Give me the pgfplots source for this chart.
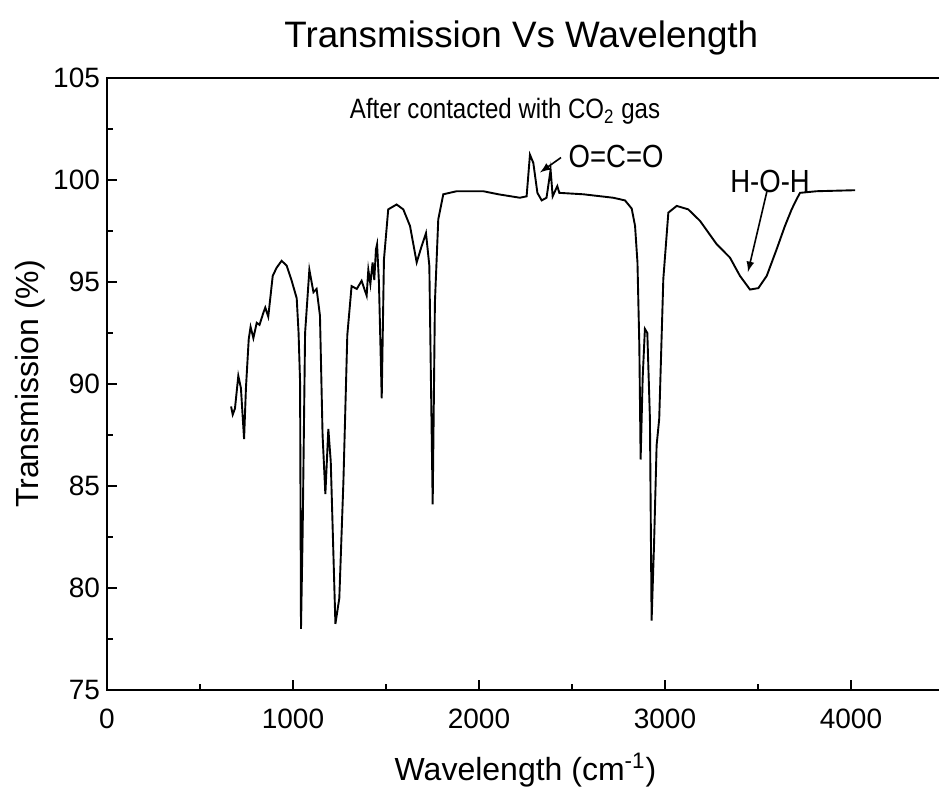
\documentclass[border=0pt]{standalone}
\usepackage{fontspec}
\setmainfont{Liberation Sans}
\newfontfamily\narrowfont[FakeStretch=0.86]{Liberation Sans}
\usepackage{pgfplots}
\pgfplotsset{compat=1.18}
\begin{document}
\begin{tikzpicture}
\begin{axis}[
  scale only axis, width=418.5pt, height=306pt,
  xmin=0, xmax=4500, ymin=75, ymax=105,
  xtick={0,1000,2000,3000,4000}, ytick={75,80,...,105},
  minor x tick num=1, minor y tick num=1,
  tick align=inside, tick pos=left,
  major tick length=5pt, minor tick length=3pt,
  axis line style={line width=1.4pt}, every tick/.style={line width=1.2pt, black},
  /pgf/number format/assume math mode=true,
  /pgf/number format/set thousands separator={},
  tick label style={font=\fontsize{14}{14}\selectfont},
  xticklabel style={yshift=-6pt},
  title={Transmission Vs Wavelength},
  title style={font=\fontsize{18.4}{18.4}\selectfont, at={(axis description cs:0.495,1)}, anchor=center, yshift=14pt},
  xlabel={Wavelength (cm\textsuperscript{-1})},
  ylabel={Transmission (\%)},
  xlabel style={font=\fontsize{16}{16}\selectfont, at={(axis description cs:0.5,0)}, anchor=center, yshift=-40pt},
  ylabel style={font=\fontsize{16}{16}\selectfont, at={(axis description cs:-0.092,0.5)}, anchor=center},
  clip=false,
]
\addplot[black, line width=0.95pt] coordinates {
(667,88.9) (676,88.5) (688,88.8) (706,90.4) (720,89.8) (737,87.3) (747,89.8)
(762,92.2) (772,92.8) (787,92.25) (805,93.0) (820,92.9) (841,93.5) (851,93.75)
(867,93.3) (891,95.3) (912,95.7) (939,96.04) (966,95.8) (993,95.06) (1020,94.2)
(1030,92.5) (1038,90.1) (1043,78.0) (1052,82.8) (1065,92.5) (1088,95.6)
(1110,94.5) (1127,94.66) (1145,93.35) (1159,87.5) (1174,84.6) (1190,87.8)
(1203,86.2) (1228,78.24) (1249,79.5) (1271,85.2) (1292,92.4) (1315,94.8)
(1343,94.66) (1369,95.06) (1396,94.33) (1405,95.6) (1416,94.9) (1428,95.96)
(1437,95.1) (1446,96.6) (1452,96.85) (1462,95) (1477,89.3) (1489,96.1)
(1512,98.56) (1557,98.8) (1593,98.56) (1629,97.75) (1665,95.96) (1692,96.77)
(1715,97.4) (1733,95.8) (1745,88) (1751,84.1) (1757,89) (1763,94.0)
(1781,98.07) (1808,99.3) (1880,99.45) (2023,99.45) (2104,99.3) (2220,99.13)
(2256,99.2) (2274,101.24) (2292,100.84) (2314,99.37) (2337,99.0) (2363,99.13)
(2385,100.5) (2396,99.2) (2409,99.46) (2421,99.7) (2432,99.37) (2561,99.3)
(2722,99.13) (2785,99.0) (2821,98.6) (2839,97.75) (2852,95.96) (2862,91.9)
(2869,86.3) (2880,90.3) (2892,92.7) (2905,92.5) (2919,88.3) (2928,78.4)
(2941,82.1) (2955,87.0) (2969,88.3) (2991,95.15) (3018,98.4) (3063,98.73)
(3125,98.56) (3188,98.0) (3278,96.85) (3349,96.2) (3403,95.3) (3457,94.63)
(3502,94.7) (3547,95.3) (3600,96.6) (3645,97.75) (3681,98.56) (3707,99.05)
(3726,99.37) (3815,99.45) (4022,99.5)
};
\node[font=\narrowfont\fontsize{14}{14}\selectfont] at (axis cs:2140,103.35) {After contacted with CO\textsubscript{2} gas};
\node[font=\narrowfont\fontsize{16}{16}\selectfont] at (axis cs:2737,101.15) {O=C=O};
\draw[-latex, line width=0.8pt] (axis cs:2441,101.1) -- (axis cs:2328,100.37);
\node[font=\narrowfont\fontsize{16}{16}\selectfont] at (axis cs:3565,99.93) {H-O-H};
\draw[-latex, line width=0.8pt] (axis cs:3548,99.44) -- (axis cs:3446,95.49);
\end{axis}
\pgfresetboundingbox
\useasboundingbox (-53.5pt,-52pt) rectangle (416pt,345pt);
\end{tikzpicture}
\end{document}
